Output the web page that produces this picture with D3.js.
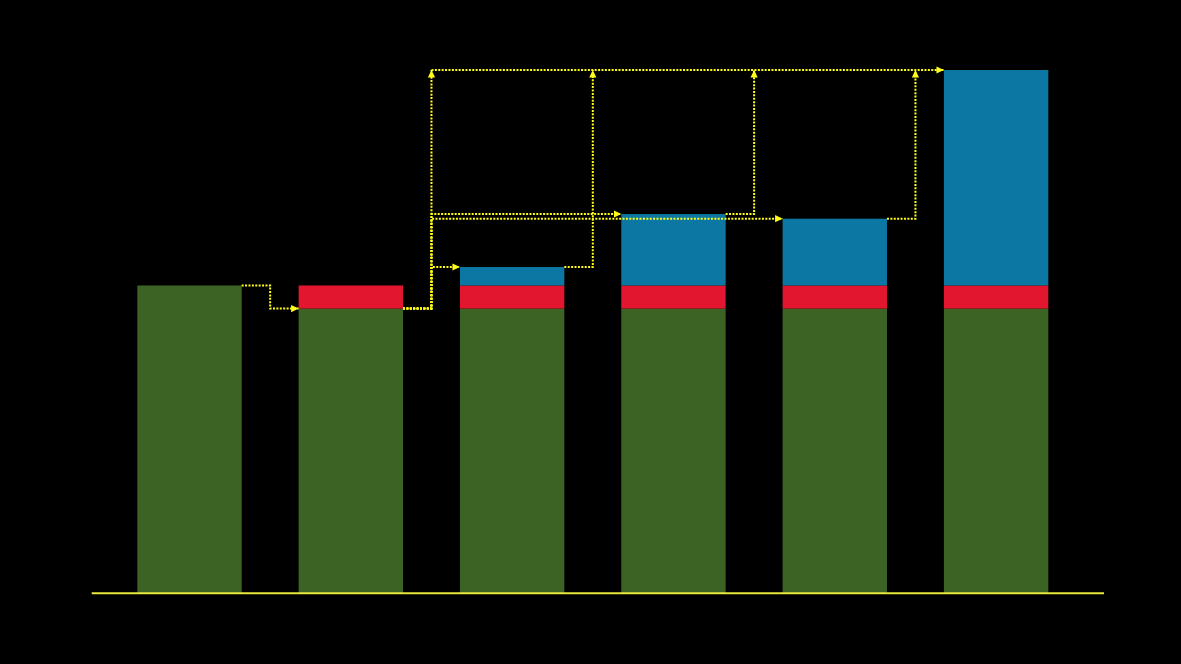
<!DOCTYPE html>
<html>
<head>
<meta charset="utf-8">
<script src="https://cdn.jsdelivr.net/npm/d3@7"></script>
<style>
  html, body { margin: 0; background: #000; }
  svg { display: block; }
</style>
</head>
<body>
<script>
'use strict'

// bar values
const categories = ['1', '2', '3', '4', '5', '6']
const base = [100, 92.5, 92.5, 92.5, 92.5, 92.5]
const cut = [0, 7.5, 7.5, 7.5, 7.5, 7.5]
const added = [0, 0, 6, 23.2, 21.7, 70]
const yMax = 170

// flows between bars: [from, level at source, to, level at target]
const steps = [
  [0, 'total', 1, 'base'],
  [1, 'base', 2, 'total'],
  [1, 'base', 3, 'total'],
  [1, 'base', 4, 'total']
]
// bars that feed the last bar over the top rail: [from, level at source]
const feeds = [[1, 'base'], [2, 'total'], [3, 'total'], [4, 'total']]

const width = 1181
const height = 664
const colors = { base: '#3c6224', cut: '#e3162f', added: '#0b77a2' }
const yellow = '#ffff1a'

const rows = categories.map(function (c, i) {
  return { key: c, base: base[i], cut: cut[i], added: added[i] }
})

const svg = d3.select('body').append('svg')
  .attr('width', width)
  .attr('height', height)
  .style('background', '#000')

const x = d3.scaleBand()
  .domain(categories)
  .range([137.3, 1048.3])
  .paddingInner(0.353)
const y = d3.scaleLinear()
  .domain([0, yMax])
  .range([593.3, 70])

const stack = d3.stack().keys(['base', 'cut', 'added'])
const layers = stack(rows)

svg.selectAll('.layer')
  .data(layers)
  .enter()
  .append('g')
  .attr('class', 'layer')
  .attr('fill', function (d) { return colors[d.key] })
  .selectAll('rect')
  .data(function (d) { return d.filter(function (s) { return s[1] - s[0] > 0 }) })
  .enter()
  .append('rect')
  .attr('x', function (d) { return x(d.data.key) })
  .attr('width', x.bandwidth())
  .attr('y', function (d) { return y(d[1]) })
  .attr('height', function (d) { return y(d[0]) - y(d[1]) })

// baseline
svg.append('line')
  .attr('x1', 91.7)
  .attr('x2', 1104)
  .attr('y1', y(0))
  .attr('y2', y(0))
  .attr('stroke', '#e8e83c')
  .attr('stroke-width', 2)

svg.append('defs').append('marker')
  .attr('id', 'arrow')
  .attr('markerUnits', 'userSpaceOnUse')
  .attr('viewBox', '0 -4 8 8')
  .attr('markerWidth', 8)
  .attr('markerHeight', 8)
  .attr('refX', 7.5)
  .attr('refY', 0)
  .attr('orient', 'auto')
  .append('path')
  .attr('d', 'M0,-3.6L7.5,0L0,3.6Z')
  .attr('fill', yellow)

function level (i, which) {
  if (which === 'base') return base[i]
  return base[i] + cut[i] + added[i]
}
function gapAfter (i) {
  return x(categories[i]) + x.bandwidth() + x.step() * x.paddingInner() / 2
}

const links = svg.append('g')
  .attr('fill', 'none')
  .attr('stroke', yellow)
  .attr('stroke-width', 2)
  .attr('stroke-dasharray', '2,1.4')

links.selectAll('.step')
  .data(steps)
  .enter()
  .append('path')
  .attr('class', 'step')
  .attr('d', function (d) {
    let p = d3.path()
    let gx = gapAfter(d[0])
    let y0 = y(level(d[0], d[1]))
    let y1 = y(level(d[2], d[3]))
    p.moveTo(x(categories[d[0]]) + x.bandwidth(), y0)
    p.lineTo(gx, y0)
    p.lineTo(gx, y1)
    p.lineTo(x(categories[d[2]]), y1)
    return p.toString()
  })
  .attr('marker-end', 'url(#arrow)')

const last = categories.length - 1
const topY = y(level(last, 'total'))

links.selectAll('.feed')
  .data(feeds)
  .enter()
  .append('path')
  .attr('class', 'feed')
  .attr('d', function (d) {
    let p = d3.path()
    let gx = gapAfter(d[0])
    let y0 = y(level(d[0], d[1]))
    p.moveTo(x(categories[d[0]]) + x.bandwidth(), y0)
    p.lineTo(gx, y0)
    p.lineTo(gx, topY)
    return p.toString()
  })
  .attr('marker-end', 'url(#arrow)')

// the rail along the top into the last bar
links.append('path')
  .attr('d', function () {
    let p = d3.path()
    p.moveTo(d3.min(feeds, function (d) { return gapAfter(d[0]) }), topY)
    p.lineTo(x(categories[last]), topY)
    return p.toString()
  })
  .attr('marker-end', 'url(#arrow)')
</script>
</body>
</html>
